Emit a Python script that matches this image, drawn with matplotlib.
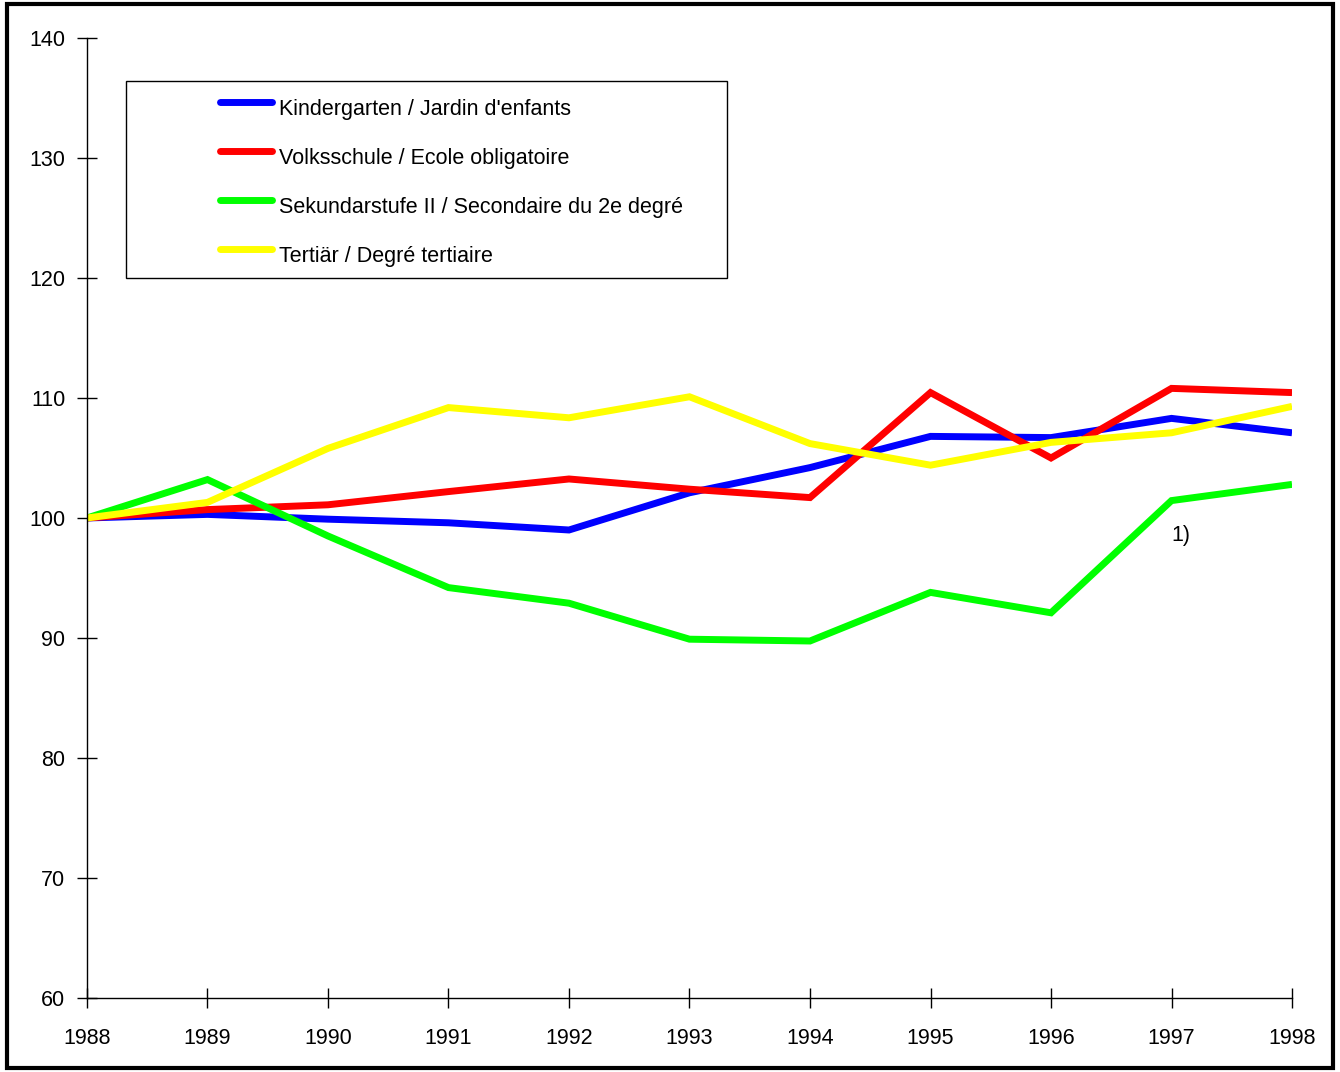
import matplotlib.pyplot as plt
from matplotlib.patches import Rectangle
from matplotlib.lines import Line2D

plt.rcParams['font.family'] = ['Liberation Sans Narrow', 'Liberation Sans', 'DejaVu Sans']

years = [1988, 1989, 1990, 1991, 1992, 1993, 1994, 1995, 1996, 1997, 1998]
kindergarten = [100, 100.3, 99.9, 99.6, 99.0, 102.1, 104.2, 106.8, 106.7, 108.3, 107.1]
volksschule = [100, 100.7, 101.1, 102.2, 103.25, 102.4, 101.7, 110.45, 105.0, 110.8, 110.45]
sekundar = [100, 103.2, 98.5, 94.2, 92.9, 89.9, 89.75, 93.8, 92.1, 101.45, 102.8]
tertiaer = [100, 101.3, 105.8, 109.2, 108.35, 110.1, 106.2, 104.4, 106.3, 107.1, 109.3]

labels = ["Kindergarten / Jardin d'enfants",
          "Volksschule / Ecole obligatoire",
          "Sekundarstufe II / Secondaire du 2e degré",
          "Tertiär / Degré tertiaire"]
colors = ['#0000ff', '#ff0000', '#00ff00', '#ffff00']
series = [kindergarten, volksschule, sekundar, tertiaer]

fig = plt.figure(figsize=(13.4, 10.72), dpi=100)
ax = fig.add_axes([0.0649, 0.0690, 0.8993, 0.8956])

for vals, c in zip(series, colors):
    ax.plot(years, vals, color=c, lw=5, solid_joinstyle='miter', solid_capstyle='butt')

ax.set_xlim(1988, 1998)
ax.set_ylim(60, 140)
ax.set_xticks(years)
ax.set_yticks(range(60, 141, 10))
ax.tick_params(direction='inout', length=15, width=1, labelsize=15.5)
ax.tick_params(axis='x', pad=14)
ax.tick_params(axis='y', pad=8)
for s in ['top', 'right']:
    ax.spines[s].set_visible(False)
for s in ['left', 'bottom']:
    ax.spines[s].set_linewidth(1)

ax.text(1997, 98.5, '1)', fontsize=15.5, ha='left', va='center')

# legend box drawn by hand
x0, y0, w, h = 0.0324, 0.75, 0.4988, 0.2052
ax.add_patch(Rectangle((x0, y0), w, h, transform=ax.transAxes, fill=False,
                       ec='black', lw=1, clip_on=False))
line_y = [0.9328, 0.8818, 0.8307, 0.7797]
for lab, c, yy in zip(labels, colors, line_y):
    ax.add_line(Line2D([0.1104, 0.1539], [yy, yy], transform=ax.transAxes, color=c,
                       lw=5, solid_capstyle='round', clip_on=False))
    ax.text(0.1590, yy - 0.013, lab, transform=ax.transAxes, fontsize=15.5,
            va='baseline', ha='left')

# outer frame
fig.add_artist(Rectangle((0.005, 0.004), 0.99, 0.992, transform=fig.transFigure,
                         fill=False, ec='black', lw=3))

fig.savefig('out.png', dpi=100)
